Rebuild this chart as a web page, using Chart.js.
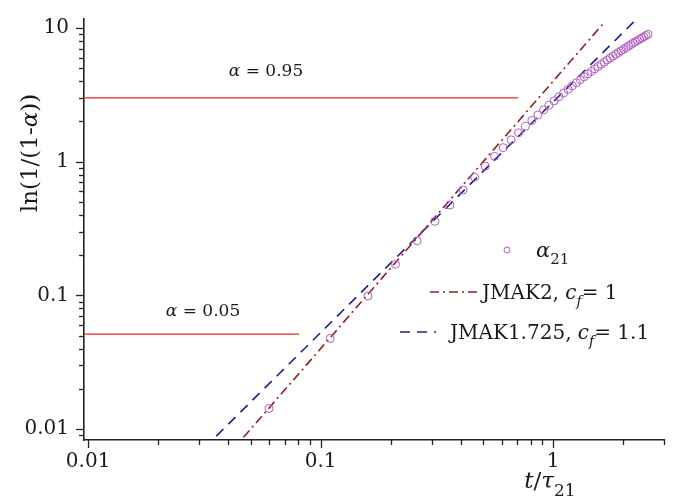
<!DOCTYPE html>
<html>
<head>
<meta charset="utf-8">
<script src="https://cdn.jsdelivr.net/npm/chart.js@4.4.1/dist/chart.umd.min.js"></script>
<style>
html,body{margin:0;padding:0;background:#fff;}
canvas{display:block;}
</style>
</head>
<body>
<canvas id="c" width="687" height="503"></canvas>
<script>
// ---- data ----
const tValues = [0.06,0.11,0.16,0.21,0.26,0.31,0.36,0.41,0.46,0.51,0.56,0.61,0.66,0.71,0.76,0.81,0.86,0.91,0.96,1.01,1.06,1.11,1.16,1.21,1.26,1.31,1.36,1.41,1.46,1.51,1.56,1.61,1.66,1.71,1.76,1.81,1.86,1.91,1.96,2.01,2.06,2.11,2.16,2.21,2.26,2.31,2.36,2.41,2.46,2.51,2.56];
const alpha21 = [0.0143,0.0477,0.099,0.171,0.256,0.358,0.474,0.614,0.765,0.925,1.095,1.272,1.455,1.643,1.836,2.033,2.234,2.436,2.641,2.847,3.054,3.263,3.472,3.681,3.890,4.100,4.309,4.517,4.724,4.931,5.137,5.341,5.543,5.745,5.945,6.145,6.342,6.538,6.733,6.926,7.117,7.306,7.494,7.680,7.864,8.046,8.227,8.406,8.583,8.759,8.932];
const jmak2X = [0.0466, 1.67];
const jmak2Y = [0.0087, 11.1];
const jmak1725X = [0.0356, 2.25];
const jmak1725Y = [0.00889, 11.3];
const line95X = [0.0096, 0.706];
const line95Y = [2.996, 2.996];
const line05X = [0.0096, 0.0808];
const line05Y = [0.0513, 0.0513];
const xTickValues = [0.01, 0.1, 1];
const xTickLabels = ['0.01', '0.1', '1'];
const yTickValues = [0.01, 0.1, 1, 10];
const yTickLabels = ['0.01', '0.1', '1', '10'];

const pts = (xs, ys) => xs.map((x, i) => ({x: x, y: ys[i]}));

const FONT = "'DejaVu Serif', 'Liberation Serif', serif";
const RED_DD = '#9e1a1a';
const BLUE = '#1c1c9c';
const PURPLE = '#b45cc4';
const HRED = '#e8281e';
const TXT = '#1a1a1a';

function richWidth(ctx, parts, size) {
  let w = 0;
  for (const p of parts) {
    const s = p.sub ? Math.round(size * 0.72) : size;
    ctx.font = (p.it ? 'italic ' : '') + s + 'px ' + FONT;
    w += ctx.measureText(p.t).width;
  }
  return w;
}
function drawRich(ctx, parts, x, y, size, align, color) {
  const w = richWidth(ctx, parts, size);
  let cx = align === 'center' ? x - w / 2 : (align === 'right' ? x - w : x);
  ctx.fillStyle = color || TXT;
  ctx.textBaseline = 'alphabetic';
  ctx.textAlign = 'left';
  for (const p of parts) {
    const s = p.sub ? Math.round(size * 0.72) : size;
    ctx.font = (p.it ? 'italic ' : '') + s + 'px ' + FONT;
    ctx.fillText(p.t, cx, y + (p.sub ? size * 0.35 : 0));
    cx += ctx.measureText(p.t).width;
  }
}

const decor = {
  id: 'decor',
  afterDraw(chart) {
    const ctx = chart.ctx;
    const xs = chart.scales.x, ys = chart.scales.y;
    const area = chart.chartArea;
    ctx.save();
    // tick marks (major + minor)
    ctx.strokeStyle = '#222';
    ctx.lineWidth = 1.3;
    for (let e = -3; e <= 1; e++) {
      for (let m = 1; m <= 9; m++) {
        const v = m * Math.pow(10, e);
        const len = m === 1 ? 8 : 5;
        if (v >= xs.min && v <= xs.max) {
          const px = Math.round(xs.getPixelForValue(v)) + 0.5;
          ctx.beginPath(); ctx.moveTo(px, area.bottom); ctx.lineTo(px, area.bottom + len); ctx.stroke();
        }
        if (v >= ys.min && v <= ys.max) {
          const py = Math.round(ys.getPixelForValue(v)) + 0.5;
          ctx.beginPath(); ctx.moveTo(area.left, py); ctx.lineTo(area.left - len, py); ctx.stroke();
        }
      }
    }
    // axis titles
    ctx.save();
    ctx.translate(29, 153);
    ctx.rotate(-Math.PI / 2);
    drawRich(ctx, [{t: 'ln(1/(1-'}, {t: 'α', it: true}, {t: '))'}], 0, 8, 23, 'center');
    ctx.restore();
    drawRich(ctx, [{t: 't', it: true}, {t: '/'}, {t: 'τ', it: true}, {t: '21', sub: true}], 550, 488, 23, 'center');

    // annotations on the α lines
    drawRich(ctx, [{t: 'α', it: true}, {t: ' = 0.95'}], 266, 76, 17, 'center');
    drawRich(ctx, [{t: 'α', it: true}, {t: ' = 0.05'}], 203, 316, 17, 'center');

    // legend
    const ds = chart.data.datasets;
    ctx.strokeStyle = ds[0].borderColor;
    ctx.lineWidth = 1;
    ctx.beginPath(); ctx.arc(507, 250, 3, 0, Math.PI * 2); ctx.stroke();
    drawRich(ctx, [{t: 'α', it: true}, {t: '21', sub: true}], 536, 257, 21, 'left');
    ctx.strokeStyle = ds[1].borderColor;
    ctx.lineWidth = ds[1].borderWidth;
    ctx.setLineDash(ds[1].borderDash);
    ctx.beginPath(); ctx.moveTo(430, 292); ctx.lineTo(478, 292); ctx.stroke();
    ctx.setLineDash([]);
    drawRich(ctx, [{t: 'JMAK2, '}, {t: 'c', it: true}, {t: 'f', it: true, sub: true}, {t: '= 1'}], 482, 299, 20, 'left');
    ctx.strokeStyle = ds[2].borderColor;
    ctx.lineWidth = ds[2].borderWidth;
    ctx.setLineDash(ds[2].borderDash);
    ctx.beginPath(); ctx.moveTo(400, 332); ctx.lineTo(436, 332); ctx.stroke();
    ctx.setLineDash([]);
    drawRich(ctx, [{t: 'JMAK1.725, '}, {t: 'c', it: true}, {t: 'f', it: true, sub: true}, {t: '= 1.1'}], 450, 339, 20, 'left');
    ctx.restore();
  }
};

new Chart(document.getElementById('c'), {
  type: 'scatter',
  data: {
    datasets: [
      {
        label: 'α21',
        data: pts(tValues, alpha21),
        showLine: false,
        pointStyle: 'circle',
        pointRadius: 4,
        pointBorderWidth: 1,
        borderColor: PURPLE,
        backgroundColor: 'rgba(0,0,0,0)',
        order: 0
      },
      {
        label: 'JMAK2, cf = 1',
        data: pts(jmak2X, jmak2Y),
        showLine: true,
        pointRadius: 0,
        borderColor: RED_DD,
        borderWidth: 1.6,
        borderDash: [9, 4, 2, 4],
        order: 1
      },
      {
        label: 'JMAK1.725, cf = 1.1',
        data: pts(jmak1725X, jmak1725Y),
        showLine: true,
        pointRadius: 0,
        borderColor: BLUE,
        borderWidth: 1.6,
        borderDash: [10, 7],
        order: 2
      },
      {
        label: 'α = 0.95',
        data: pts(line95X, line95Y),
        showLine: true,
        pointRadius: 0,
        borderColor: HRED,
        borderWidth: 1.2,
        order: 3
      },
      {
        label: 'α = 0.05',
        data: pts(line05X, line05Y),
        showLine: true,
        pointRadius: 0,
        borderColor: HRED,
        borderWidth: 1.2,
        order: 4
      }
    ]
  },
  options: {
    responsive: false,
    animation: false,
    devicePixelRatio: 1,
    layout: {padding: {left: 0, top: 10, right: 23, bottom: 0}},
    plugins: {legend: {display: false}, tooltip: {enabled: false}},
    scales: {
      x: {
        type: 'logarithmic',
        position: 'bottom',
        min: 0.0096,
        max: 3.0,
        afterFit: s => { s.height = 63; },
        afterBuildTicks: s => { s.ticks = xTickValues.map(v => ({value: v})); },
        ticks: {
          autoSkip: false,
          maxRotation: 0,
          padding: 2,
          color: TXT,
          font: {family: FONT, size: 20},
          callback: (v, i) => xTickLabels[i]
        },
        grid: {display: true, drawOnChartArea: false, drawTicks: true, tickLength: 8, tickColor: 'rgba(0,0,0,0)'},
        border: {display: true, color: '#222', width: 1.6}
      },
      y: {
        type: 'logarithmic',
        position: 'left',
        min: 0.00831,
        max: 11.64,
        afterFit: s => { s.width = 84; },
        afterBuildTicks: s => { s.ticks = yTickValues.map(v => ({value: v})); },
        ticks: {
          autoSkip: false,
          padding: 7,
          color: TXT,
          font: {family: FONT, size: 20},
          callback: (v, i) => yTickLabels[i]
        },
        grid: {display: true, drawOnChartArea: false, drawTicks: true, tickLength: 8, tickColor: 'rgba(0,0,0,0)'},
        border: {display: true, color: '#222', width: 1.6}
      }
    }
  },
  plugins: [decor]
});
</script>
</body>
</html>
